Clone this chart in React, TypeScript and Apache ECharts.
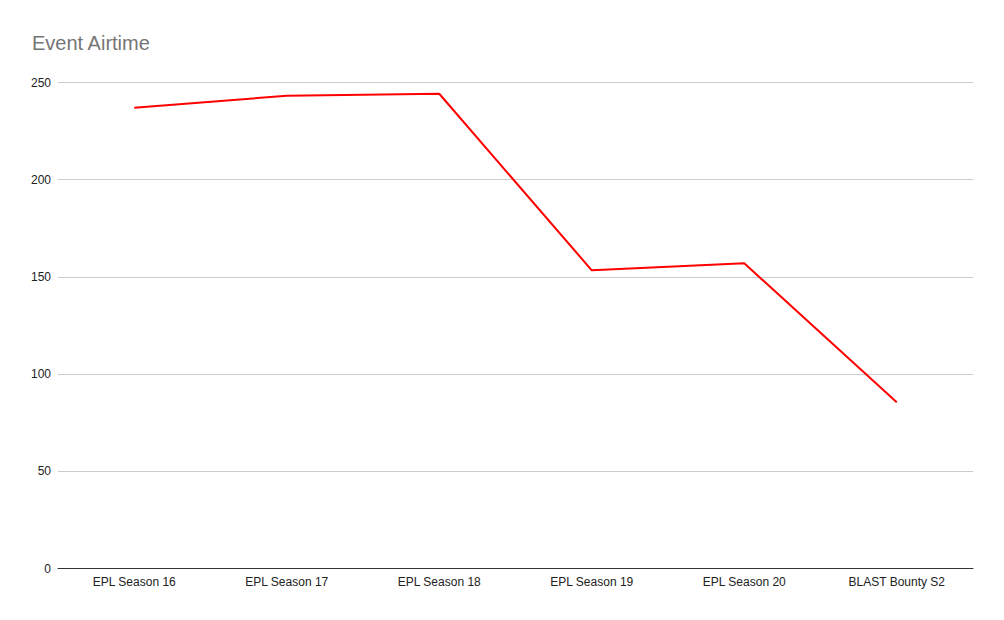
import React, { useEffect, useRef } from "react";
import * as echarts from "echarts";

const categories = ["EPL Season 16", "EPL Season 17", "EPL Season 18", "EPL Season 19", "EPL Season 20", "BLAST Bounty S2"];
const airtime = [237.0, 243.2, 244.2, 153.4, 157.0, 85.5];

export default function App() {
  const ref = useRef<HTMLDivElement>(null);
  useEffect(() => {
    const chart = echarts.init(ref.current!, null, { renderer: "svg" });
    chart.setOption({
      animation: false,
      title: {
        text: "Event Airtime",
        left: 27,
        top: 28,
        textStyle: { fontFamily: "Liberation Sans, Arial, sans-serif", fontSize: 20, fontWeight: "normal", color: "#757575" },
      },
      grid: { left: 58, right: 31, top: 82.5, bottom: 51.5, containLabel: false },
      xAxis: {
        type: "category",
        data: categories,
        boundaryGap: true,
        axisLine: { lineStyle: { color: "#333333", width: 1 } },
        axisTick: { show: false },
        axisLabel: { color: "#222222", fontSize: 12, fontFamily: "Liberation Sans, Arial, sans-serif", margin: 7 },
      },
      yAxis: {
        type: "value",
        min: 0,
        max: 250,
        interval: 50,
        axisLine: { show: false },
        axisTick: { show: false },
        axisLabel: { color: "#222222", fontSize: 12, fontFamily: "Liberation Sans, Arial, sans-serif", margin: 7 },
        splitLine: { lineStyle: { color: "#cccccc", width: 1 } },
      },
      series: [
        {
          type: "line",
          data: airtime,
          symbol: "none",
          lineStyle: { color: "#ff0000", width: 2 },
          itemStyle: { color: "#ff0000" },
        },
      ],
    });
    return () => chart.dispose();
  }, []);
  return <div ref={ref} style={{ width: 1004, height: 620, margin: -8 }} />;
}
